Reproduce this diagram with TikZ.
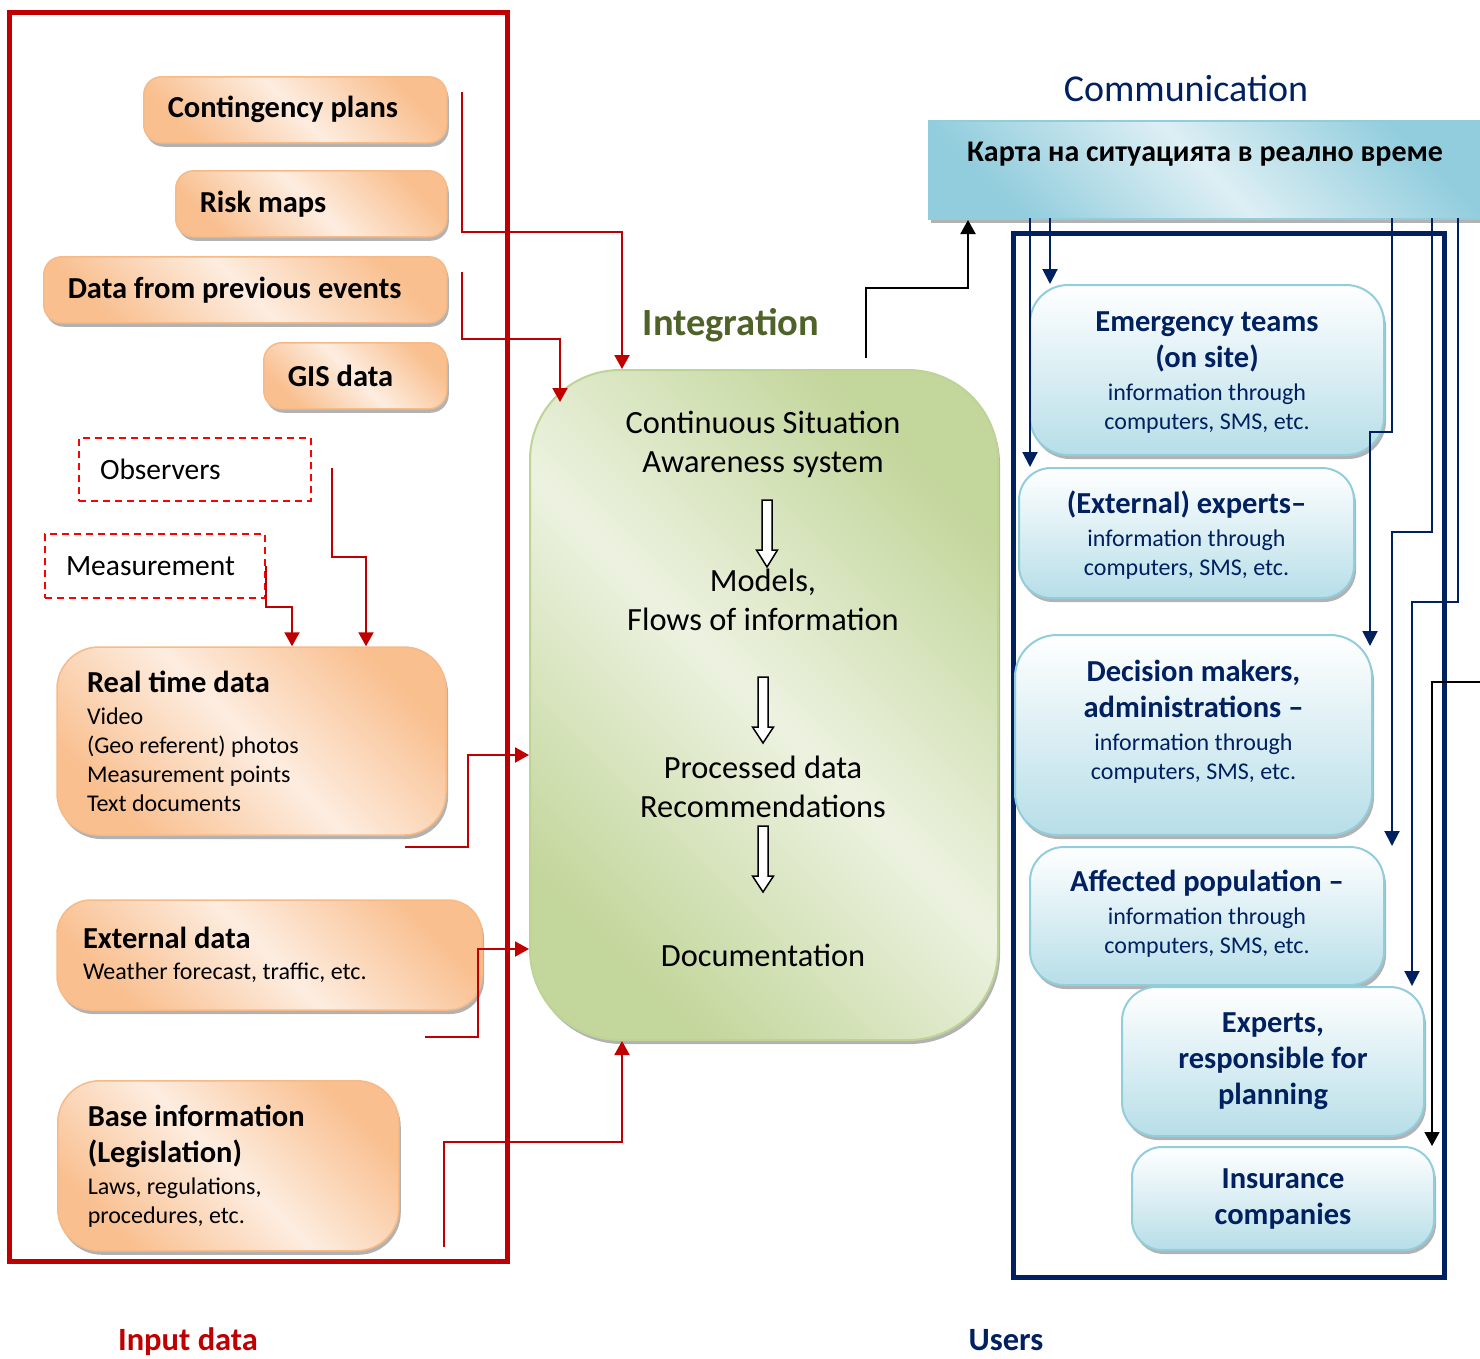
\documentclass[tikz,border=0pt]{standalone}
\usepackage{fontspec}
\setmainfont{Carlito}
\usetikzlibrary{arrows.meta,shadows}

\definecolor{inred}{RGB}{192,0,0}
\definecolor{usnavy}{RGB}{0,32,96}
\definecolor{intgreen}{RGB}{79,98,40}
\definecolor{ordark}{RGB}{249,191,143}
\definecolor{orlight}{RGB}{253,237,224}
\definecolor{orline}{RGB}{247,186,134}
\definecolor{grdark}{RGB}{195,214,155}
\definecolor{grlight}{RGB}{236,242,224}
\definecolor{grline}{RGB}{190,212,150}
\definecolor{bldark}{RGB}{146,205,221}
\definecolor{bllight}{RGB}{221,239,244}
\definecolor{blbot}{RGB}{183,222,232}
\definecolor{blline}{RGB}{146,205,220}

\newcommand\boxtitle{\fontsize{30.5}{36}\selectfont\bfseries}
\newcommand\boxsmall{\fontsize{24}{29}\selectfont}
\newcommand\boxplain{\fontsize{29.5}{36}\selectfont}
\newcommand\flowtext{\fontsize{32.4}{39}\selectfont}

\tikzset{
  boxshadow/.style={drop shadow={shadow xshift=2pt,shadow yshift=-4pt,fill=black,opacity=.3}},
  orbox/.style={boxshadow,draw=orline,line width=1.5pt,rounded corners=18pt,
    left color=ordark,right color=ordark,middle color=orlight,shading angle=-45,
    anchor=north west,align=flush left,inner xsep=24pt,inner ysep=0pt,font=\boxtitle},
  dashbox/.style={draw=red,line width=2pt,dash pattern=on 7pt off 5pt,anchor=north west,
    align=flush left,inner xsep=21pt,inner ysep=0pt,font=\boxplain},
  intbox/.style={boxshadow,draw=grline,line width=2pt,rounded corners=90pt,
    left color=grdark,right color=grdark,middle color=grlight,shading angle=-45},
  mapbar/.style={boxshadow,draw=blline,line width=2pt,
    left color=bldark,right color=bldark,middle color=bllight,shading angle=-45},
  ubox/.style={boxshadow,draw=blline,line width=2pt,rounded corners=38pt,
    top color=white,bottom color=blbot,align=flush center,text=usnavy,inner sep=0pt,font=\boxsmall},
  flow/.style={align=center,font=\flowtext,inner sep=0pt},
  redarrow/.style={draw=inred,line width=2pt,-{Triangle[width=15pt,length=14pt]}},
  navyarrow/.style={draw=usnavy,line width=2pt,-{Triangle[width=15pt,length=15pt]}},
  blkarrow/.style={draw=black,line width=2pt,-{Triangle[width=15pt,length=14pt]}}
}

\begin{document}
\begin{tikzpicture}[x=1pt,y=-1pt]
\useasboundingbox (0,0) rectangle (1480,1358);

% input data
\draw[inred,line width=5pt] (9,12) rectangle (507,1261);
\node[orbox,minimum width=303pt,minimum height=66pt,text width=255pt] (cont) at (143,76) {Contingency plans};
\node[orbox,minimum width=271pt,minimum height=66pt,text width=223pt] (risk) at (175,170) {Risk maps};
\node[orbox,minimum width=403pt,minimum height=66pt,text width=355pt] (prev) at (43,256) {Data from previous events};
\node[orbox,minimum width=183pt,minimum height=66pt,text width=135pt] (gis) at (263,342) {GIS data};
\node[dashbox,minimum width=232pt,minimum height=63pt,text width=190pt] (obs) at (78,437) {Observers};
\node[dashbox,minimum width=220pt,minimum height=64pt,text width=178pt] (meas) at (44,533) {Measurement};
\node[orbox,anchor=center,rounded corners=42pt,inner xsep=30pt,minimum width=389pt,minimum height=188pt,text width=329pt,font=\boxsmall] (rtd) at (251.5,741)
  {{\boxtitle Real time data\par}\vskip3pt Video\\(Geo referent) photos\\Measurement points\\Text documents\par\vspace*{-4pt}};
\node[orbox,anchor=center,rounded corners=34pt,inner xsep=26pt,minimum width=425pt,minimum height=110pt,text width=373pt,font=\boxsmall] (ext) at (269.5,955)
  {{\boxtitle External data\par}\vskip2pt Weather forecast, traffic, etc.\par\vspace*{12pt}};
\node[orbox,rounded corners=42pt,inner xsep=30pt,minimum width=341pt,minimum height=170pt,text width=281pt,font=\boxsmall] (base) at (57,1080)
  {{\boxtitle Base information\\(Legislation)\par}\vskip3pt Laws, regulations,\\procedures, etc.};
\node[text=inred,inner sep=0pt,font=\fontsize{32.5}{38}\selectfont\bfseries] (inlbl) at (188,1342) {Input data};

% integration
\node[text=intgreen,font=\fontsize{38.5}{44}\selectfont\bfseries] (intlbl) at (731,325) {Integration};
\node[intbox,minimum width=468pt,minimum height=670pt] (integ) at (764,705) {};
\node[flow] (csa) at (763,444) {Continuous Situation\\Awareness system};
\node[flow] (models) at (763,600) {Models,\\Flows of information};
\node[flow] (procd) at (763,787) {Processed data\\Recommendations};
\node[flow] (docu) at (763,955) {Documentation};
\foreach \x/\ya/\yb/\yc in {767/500/550/567,763/677/727/743,763/826/876/892}
  \draw[fill=white,line width=1.5pt,line join=miter] (\x-5,\ya) -- (\x+5,\ya) -- (\x+5,\yb) -- (\x+10.5,\yb)
    -- (\x,\yc) -- (\x-10.5,\yb) -- (\x-5,\yb) -- cycle;

% communication and users
\node[text=usnavy,font=\fontsize{38}{44}\selectfont] (comlbl) at (1186,88) {Communication};
\node[mapbar,anchor=north west,minimum width=556pt,minimum height=98pt] (bar) at (928,120) {};
\node[font=\fontsize{30}{36}\selectfont\bfseries] (karta) at (1205,154) {Карта на ситуацията в реално време};
\draw[usnavy,line width=5pt] (1013,233) rectangle (1444,1277);
\node[ubox,minimum width=354pt,minimum height=170pt,text width=334pt] (ems) at (1207,370)
  {{\boxtitle Emergency teams\\(on site)\par}\vskip4pt information through\\computers, SMS, etc.\par\vspace*{-6pt}};
\node[ubox,rounded corners=32pt,minimum width=335pt,minimum height=130pt,text width=315pt] (exp) at (1186.5,533)
  {{\boxtitle (External) experts–\par}\vskip4pt information through\\computers, SMS, etc.\par\vspace*{-4pt}};
\node[ubox,rounded corners=42pt,minimum width=357pt,minimum height=200pt,text width=337pt] (dec) at (1193.5,735)
  {{\boxtitle Decision makers,\\administrations –\par}\vskip4pt information through\\computers, SMS, etc.\par\vspace*{26pt}};
\node[ubox,rounded corners=34pt,minimum width=354pt,minimum height=138pt,text width=334pt] (aff) at (1207,916)
  {{\boxtitle Affected population –\par}\vskip4pt information through\\computers, SMS, etc.\par\vspace*{4pt}};
\node[ubox,rounded corners=34pt,minimum width=302pt,minimum height=149pt,text width=282pt,font=\boxtitle] (plan) at (1273,1061.5)
  {Experts,\\responsible for\\planning};
\node[ubox,rounded corners=30pt,minimum width=302pt,minimum height=103pt,text width=282pt,font=\boxtitle] (ins) at (1283,1198.5)
  {Insurance\\companies};
\node[text=usnavy,inner sep=0pt,font=\fontsize{32.5}{38}\selectfont\bfseries] (uslbl) at (1006,1340) {Users};

% connectors
\coordinate (cp-out) at (462,92);
\coordinate (cp-bend) at (622,232);
\coordinate (pe-out) at (462,272);
\coordinate (pe-bend) at (560,339);
\coordinate (pe-in) at (560,402);
\coordinate (ob-out) at (332,468);
\coordinate (ob-bend) at (366,557);
\coordinate (me-bend) at (292,607);
\coordinate (rt-out) at (405,847);
\coordinate (rt-bend) at (468,755);
\coordinate (ex-out) at (425,1037);
\coordinate (ex-bend) at (478,949);
\coordinate (ba-out) at (444,1247);
\coordinate (ba-bend) at (622,1142);
\draw[redarrow] (cp-out) |- (cp-bend) -- (cp-bend |- integ.north);
\draw[redarrow] (pe-out) |- (pe-bend) -- (pe-in);
\draw[redarrow] (ob-out) |- (ob-bend) -- (ob-bend |- rtd.north);
\draw[redarrow] (meas.east) |- (me-bend) -- (me-bend |- rtd.north);
\draw[redarrow] (rt-out) -| (rt-bend) -- (rt-bend -| integ.west);
\draw[redarrow] (ex-out) -| (ex-bend) -- (ex-bend -| integ.west);
\draw[redarrow] (ba-out) |- (ba-bend) -- (ba-bend |- integ.south);

\coordinate (in-out) at (866,358);
\coordinate (in-bend) at (968,288);
\draw[blkarrow] (in-out) |- (in-bend) -- (in-bend |- bar.south);

\coordinate (n1) at (1050,218);
\coordinate (n2) at (1030,218);
\coordinate (n3) at (1392,218);
\coordinate (n3-bend) at (1370,432);
\coordinate (n3-in) at (1370,646);
\coordinate (n4) at (1432,218);
\coordinate (n4-bend) at (1392,532);
\coordinate (n5) at (1458,218);
\coordinate (n5-bend) at (1412,602);
\draw[navyarrow] (n1) -- (n1 |- ems.north);
\draw[navyarrow] (n2) -- (n2 |- exp.north);
\draw[navyarrow] (n3) |- (n3-bend) -- (n3-in);
\draw[navyarrow] (n4) |- (n4-bend) -- (n4-bend |- aff.north);
\draw[navyarrow] (n5) |- (n5-bend) -- (n5-bend |- plan.north);
\coordinate (bk-out) at (1484,682);
\coordinate (bk-bend) at (1432,682);
\draw[blkarrow,line width=1.5pt] (bk-out) -- (bk-bend) -- (bk-bend |- ins.north);
\end{tikzpicture}
\end{document}
